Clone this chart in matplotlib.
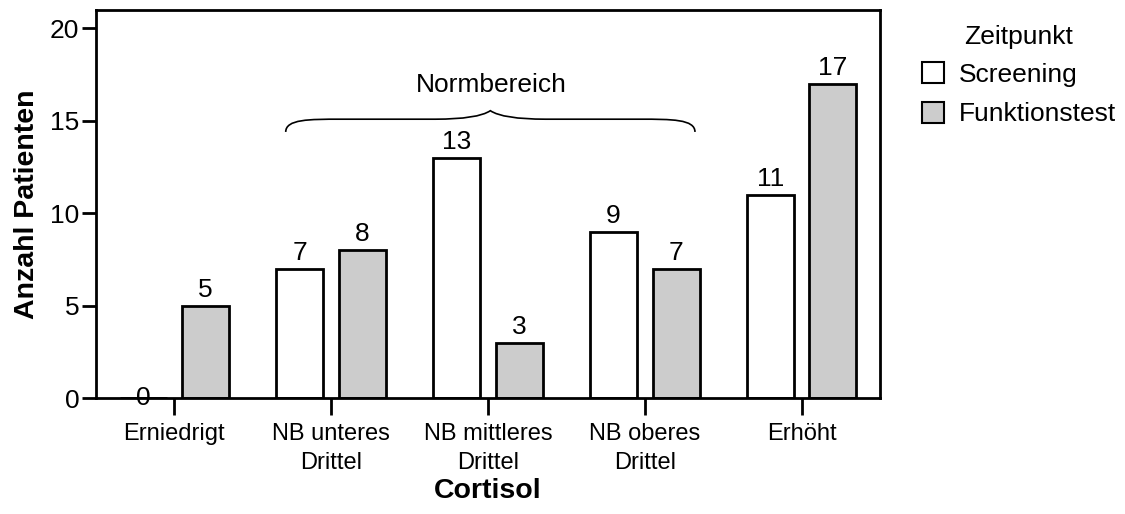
import matplotlib
matplotlib.use("Agg")
import matplotlib.pyplot as plt
import numpy as np
from matplotlib.path import Path
from matplotlib.patches import PathPatch, Patch

plt.rcParams['font.family'] = ['Liberation Sans', 'DejaVu Sans']

categories = ["Erniedrigt", "NB unteres\nDrittel", "NB mittleres\nDrittel", "NB oberes\nDrittel", "Erhöht"]
screening = [0, 7, 13, 9, 11]
funktionstest = [5, 8, 3, 7, 17]
series_names = ["Screening", "Funktionstest"]


def draw_brace(ax, x0, x1, y, h):
    # geschweifte Klammer von x0 bis x1, Spitze nach oben
    xm = (x0 + x1) / 2
    verts = [
        (x0, y), (x0, y + h * 0.6), (x0 + 0.15, y + h * 0.6), (x0 + 0.35, y + h * 0.6),
        (xm - 0.35, y + h * 0.6), (xm - 0.08, y + h * 0.6), (xm, y + h),
        (xm + 0.08, y + h * 0.6), (xm + 0.35, y + h * 0.6),
        (x1 - 0.35, y + h * 0.6), (x1 - 0.15, y + h * 0.6), (x1, y + h * 0.6), (x1, y),
    ]
    codes = [Path.MOVETO, Path.CURVE4, Path.CURVE4, Path.CURVE4,
             Path.LINETO, Path.CURVE3, Path.CURVE3,
             Path.CURVE3, Path.CURVE3,
             Path.LINETO, Path.CURVE4, Path.CURVE4, Path.CURVE4]
    ax.add_patch(PathPatch(Path(verts, codes), fill=False, lw=1.2, color="black"))


fig = plt.figure(figsize=(11.25, 5.14), dpi=100)
ax = fig.add_axes([96 / 1125, 1 - 398 / 514, (880 - 96) / 1125, (398 - 10) / 514])

x = np.arange(len(categories))
w = 0.3
b1 = ax.bar(x - 0.2, screening, w, color="white", edgecolor="black", linewidth=2)
b2 = ax.bar(x + 0.2, funktionstest, w, color="#cccccc", edgecolor="black", linewidth=2)
for bars, vals in ((b1, screening), (b2, funktionstest)):
    for b, v in zip(bars, vals):
        xc = b.get_x() + b.get_width() / 2
        if v == 0:
            ax.text(xc, 0, str(v), ha="center", va="center", fontsize=19)
        else:
            ax.text(xc, v + 0.2, str(v), ha="center", va="bottom", fontsize=19)

ax.set_xlim(-0.5, 4.5)
ax.set_ylim(0, 21)
ax.set_yticks([0, 5, 10, 15, 20])
ax.set_xticks(x)
ax.set_xticklabels(categories, fontsize=17, linespacing=1.4)
ax.tick_params(axis="y", labelsize=19, width=2, length=10, direction="out", pad=2)
ax.tick_params(axis="x", width=2, length=12, direction="out", pad=6)
for s in ax.spines.values():
    s.set_linewidth(2)

ax.set_ylabel("Anzahl Patienten", fontsize=20.5, fontweight="bold", labelpad=7)
ax.set_xlabel("Cortisol", fontsize=20.5, fontweight="bold", labelpad=3)

draw_brace(ax, 0.71, 3.32, 14.4, 1.15)
ax.text(2.02, 16.95, "Normbereich", ha="center", va="center", fontsize=19)

handles = [Patch(facecolor="white", edgecolor="black", linewidth=1.5),
           Patch(facecolor="#cccccc", edgecolor="black", linewidth=1.5)]
leg = fig.legend(handles, series_names, title="Zeitpunkt", loc="upper left",
                 bbox_to_anchor=(911 / 1125, 1 - 14 / 514), frameon=False,
                 fontsize=19, title_fontsize=19, handlelength=0.85, handleheight=0.85,
                 handletextpad=0.55, labelspacing=0.55, borderaxespad=0)
leg._legend_box.sep = 10

fig.savefig("out.png", dpi=100)
